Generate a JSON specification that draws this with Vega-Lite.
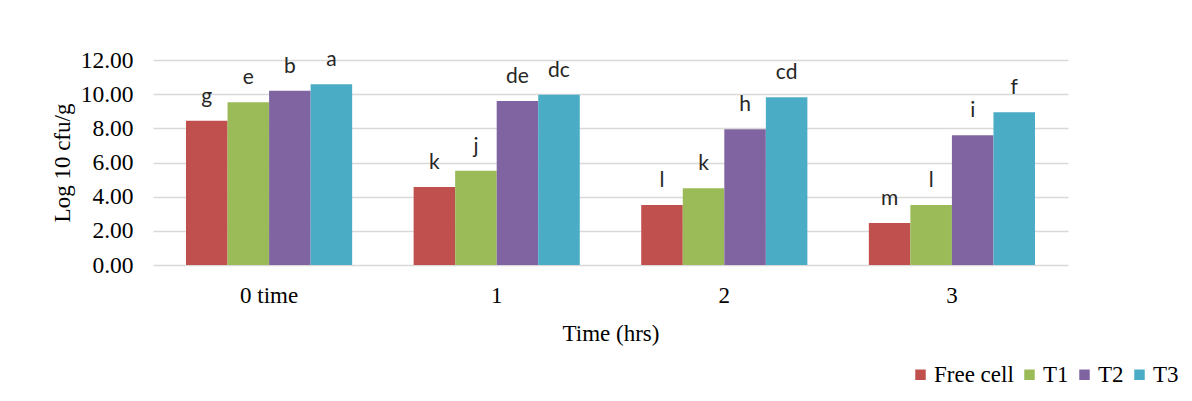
{
  "$schema": "https://vega.github.io/schema/vega-lite/v6.json",
  "autosize": {"type": "none"},
  "width": 915,
  "height": 205,
  "padding": {"left": 153, "top": 60, "right": 124, "bottom": 136},
  "background": "white",
  "config": {
    "view": {"stroke": null},
    "font": "Liberation Serif"
  },
  "data": {
    "values": [
      {"time": "0 time", "group": "Free cell", "value": 8.45, "sig": "g"},
      {"time": "0 time", "group": "T1", "value": 9.52, "sig": "e"},
      {"time": "0 time", "group": "T2", "value": 10.2, "sig": "b"},
      {"time": "0 time", "group": "T3", "value": 10.58, "sig": "a"},
      {"time": "1", "group": "Free cell", "value": 4.57, "sig": "k"},
      {"time": "1", "group": "T1", "value": 5.52, "sig": "j"},
      {"time": "1", "group": "T2", "value": 9.6, "sig": "de"},
      {"time": "1", "group": "T3", "value": 9.97, "sig": "dc"},
      {"time": "2", "group": "Free cell", "value": 3.51, "sig": "l"},
      {"time": "2", "group": "T1", "value": 4.49, "sig": "k"},
      {"time": "2", "group": "T2", "value": 7.94, "sig": "h"},
      {"time": "2", "group": "T3", "value": 9.82, "sig": "cd"},
      {"time": "3", "group": "Free cell", "value": 2.46, "sig": "m"},
      {"time": "3", "group": "T1", "value": 3.51, "sig": "l"},
      {"time": "3", "group": "T2", "value": 7.59, "sig": "i"},
      {"time": "3", "group": "T3", "value": 8.94, "sig": "f"}
    ]
  },
  "encoding": {
    "x": {
      "field": "time", "type": "nominal", "sort": null,
      "scale": {"paddingInner": 0.27, "paddingOuter": 0.145},
      "axis": {
        "title": "Time (hrs)", "labelAngle": 0, "domain": false, "ticks": false,
        "labelFont": "Liberation Serif", "labelFontSize": 23, "labelColor": "#000000",
        "labelPadding": 19, "titleFont": "Liberation Serif", "titleFontSize": 23,
        "titleFontWeight": "normal", "titleColor": "#000000", "titlePadding": 15
      }
    },
    "xOffset": {"field": "group", "type": "nominal", "sort": ["Free cell", "T1", "T2", "T3"]},
    "y": {
      "field": "value", "type": "quantitative",
      "scale": {"domain": [0, 12], "nice": false},
      "axis": {
        "title": "Log 10 cfu/g", "values": [0, 2, 4, 6, 8, 10, 12], "format": ".2f",
        "domain": false, "ticks": false, "gridColor": "#D9D9D9", "gridWidth": 1.5,
        "labelFont": "Liberation Serif", "labelFontSize": 23.5, "labelColor": "#000000",
        "labelPadding": 20, "titleFont": "Liberation Serif", "titleFontSize": 23,
        "titleFontWeight": "normal", "titleColor": "#000000", "titlePadding": 6
      }
    }
  },
  "layer": [
    {
      "mark": {"type": "bar"},
      "encoding": {
        "color": {
          "field": "group", "type": "nominal",
          "scale": {"domain": ["Free cell", "T1", "T2", "T3"], "range": ["#C0504D", "#9BBB59", "#8064A2", "#4BACC6"]},
          "legend": {
            "title": null, "orient": "none", "direction": "horizontal",
            "legendX": 756, "legendY": 303,
            "symbolType": "square", "symbolSize": 110, "symbolStrokeWidth": 0,
            "labelFont": "Liberation Serif", "labelFontSize": 23, "labelColor": "#000000",
            "labelOffset": 2, "columnPadding": 4
          }
        }
      }
    },
    {
      "mark": {"type": "text", "dy": -24, "baseline": "middle", "font": "Lato", "fontSize": 21, "color": "#262626"},
      "encoding": {
        "text": {"field": "sig", "type": "nominal"}
      }
    }
  ]
}
